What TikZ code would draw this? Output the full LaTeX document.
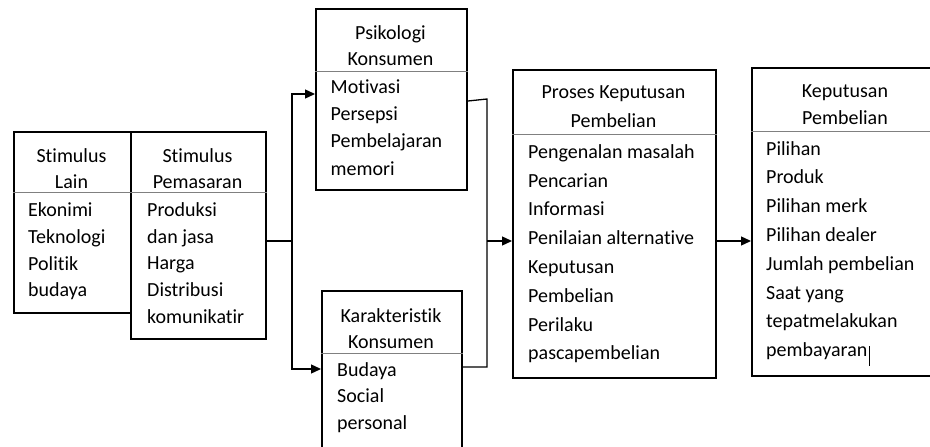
\documentclass[tikz,border=0pt]{standalone}
\usepackage{fontspec}
\setmainfont{Carlito}[Ligatures={NoCommon,NoRequired,NoContextual}]
\usetikzlibrary{arrows.meta}

\tikzset{
	kotak/.style={draw, line width=2pt, inner sep=0pt, anchor=north west},
	garis/.style={line width=1pt, draw=black!50},
	judul/.style={anchor=south, inner sep=0pt, align=center},
	isi/.style={anchor=north west, inner sep=0pt, align=left},
	hubung/.style={line width=1.3pt},
	panah/.style={line width=1.3pt, -{Triangle[length=10pt,width=9pt]}},
}

\begin{document}
\begin{tikzpicture}[x=1pt, y=-1pt]
			%%%%% START %%%%%
			\useasboundingbox (0,0) rectangle (930,447);
			\clip (0,0) rectangle (930,447);
			
			% kotak
			\node[kotak, minimum width=117pt, minimum height=181pt] (lain) at (13,131) {};
			\node[kotak, minimum width=135pt, minimum height=207pt] (pemasaran) at (130,131) {};
			\node[kotak, minimum width=151pt, minimum height=181pt] (psikologi) at (315,8) {};
			\node[kotak, minimum width=140pt, minimum height=175pt] (karakteristik) at (321,290) {};
			\node[kotak, minimum width=203pt, minimum height=308pt] (proses) at (512,69) {};
			\node[kotak, minimum width=190pt, minimum height=308pt] (keputusan) at (751,67) {};
			
			\draw[garis] ([yshift=-61pt]lain.north west) -- ([yshift=-61pt]lain.north east);
			\draw[garis] ([yshift=-61pt]pemasaran.north west) -- ([yshift=-61pt]pemasaran.north east);
			\draw[garis] ([yshift=-63.7pt]psikologi.north west) -- ([yshift=-63.7pt]psikologi.north east);
			\draw[garis] ([yshift=-63pt]karakteristik.north west) -- ([yshift=-63pt]karakteristik.north east);
			\draw[garis] ([yshift=-65pt]proses.north west) -- ([yshift=-65pt]proses.north east);
			\draw[garis] ([yshift=-64pt]keputusan.north west) -- ([yshift=-64pt]keputusan.north east);
			
			% judul
			\node[judul, font=\fontsize{20}{25.6}\selectfont] (lainJ) at (71.5,188.6) {Stimulus\\Lain};
			\node[judul, font=\fontsize{20}{25.6}\selectfont] (pemasaranJ) at (197.5,188.6) {Stimulus\\Pemasaran};
			\node[judul, font=\fontsize{20}{25.7}\selectfont] (psikologiJ) at (390.5,66) {Psikologi\\Konsumen};
			\node[judul, font=\fontsize{20}{26.3}\selectfont] (karakteristikJ) at (391,349) {Karakteristik\\Konsumen};
			\node[judul, font=\fontsize{20}{29}\selectfont] (prosesJ) at (613.5,128.3) {Proses Keputusan\\Pembelian};
			\node[judul, font=\fontsize{20}{26.7}\selectfont] (keputusanJ) at (845,125) {Keputusan\\Pembelian};
			
			% isi
			\node[isi, font=\fontsize{20}{26.7}\selectfont] (lainI) at (28,202.7)
				{Ekonimi\\Teknologi\\Politik\\budaya};
			\node[isi, font=\fontsize{20}{26.6}\selectfont] (pemasaranI) at (147,202.7)
				{Produksi\\dan jasa\\Harga\\Distribusi\\komunikatir};
			\node[isi, font=\fontsize{20}{27.3}\selectfont] (psikologiI) at (330.5,79.3)
				{Motivasi\\Persepsi\\Pembelajaran\\memori};
			\node[isi, font=\fontsize{20}{26.2}\selectfont] (karakteristikI) at (337,362.7)
				{Budaya\\Social\\personal};
			\node[isi, font=\fontsize{20}{28.8}\selectfont] (prosesI) at (528,144.3)
				{Pengenalan masalah\\Pencarian\\Informasi\\Penilaian alternative\\Keputusan\\Pembelian\\Perilaku\\pascapembelian};
			\node[isi, font=\fontsize{20}{28.8}\selectfont] (keputusanI) at (766,141)
				{Pilihan\\Produk\\Pilihan merk\\Pilihan dealer\\Jumlah pembelian\\Saat yang\\tepatmelakukan\\pembayaran\kern1.5pt\rule[-9pt]{1.2pt}{20pt}};
			
			% hubungan
			\coordinate (cabang) at (292,241);
			\coordinate (gabung) at (487,241);
			\coordinate (gabungAtas) at (487,99);
			\coordinate (gabungBawah) at (487,367);
			
			\draw[hubung] (pemasaran.east |- cabang) -- (cabang);
			\draw[panah] (cabang) |- ([yshift=-86pt]psikologi.north west);
			\draw[panah] (cabang) |- ([yshift=-79pt]karakteristik.north west);
			\draw[hubung] ([yshift=-93pt]psikologi.north east) -- (gabungAtas) -- (gabungBawah) -- (karakteristik.east |- gabungBawah);
			\draw[panah] (gabung) -- (proses.west |- gabung);
			\draw[panah] (proses.east |- gabung) -- (keputusan.west |- gabung);
			
			%%%%% END %%%%%
\end{tikzpicture}
\end{document}
